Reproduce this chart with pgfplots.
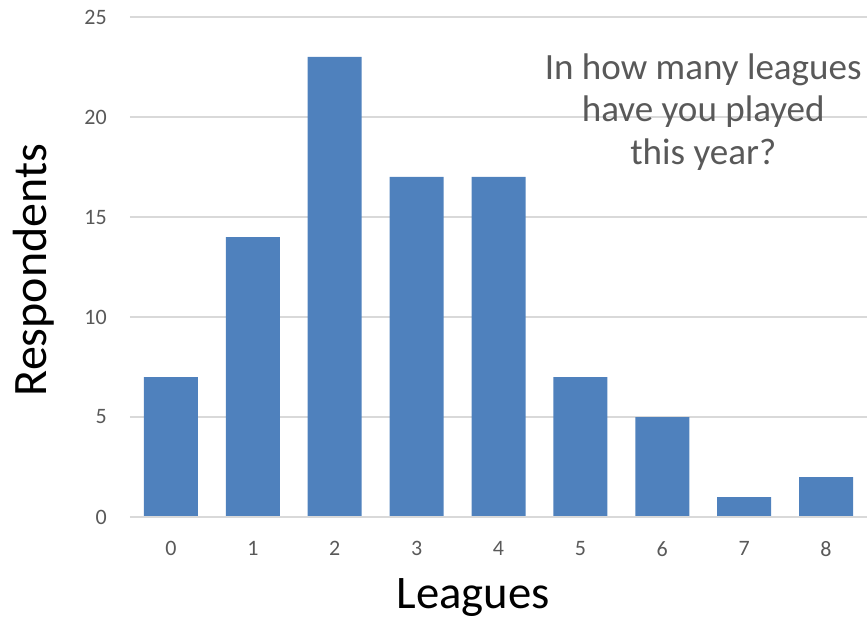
\documentclass[border=0pt]{standalone}
\usepackage{pgfplots}
\pgfplotsset{compat=1.18}
\usepackage{fontspec}
\setmainfont{Carlito}
\definecolor{barblue}{HTML}{4F81BD}
\definecolor{ticktext}{HTML}{595959}
\definecolor{gridgray}{HTML}{D9D9D9}

\begin{document}
\begin{tikzpicture}
  \useasboundingbox (-97.5pt,-75.75pt) rectangle (552.75pt,387.75pt);
  \begin{axis}[
    scale only axis,
    width=552.75pt, height=375pt,
    xmin=-0.5, xmax=8.5,
    ymin=0, ymax=25,
    xtick={0,...,8},
    ytick={0,5,...,25},
    major tick length=0pt,
    axis line style={draw=none},
    ymajorgrids,
    grid style={gridgray, line width=1pt},
    tick label style={font=\fontsize{16.5}{19}\selectfont, text=ticktext,
      /pgf/number format/assume math mode=true},
    yticklabel style={inner sep=0pt, xshift=-17.25pt},
    xticklabel style={inner sep=0pt, anchor=north, yshift=-18pt},
    clip=false,
  ]
    \addplot[ybar, bar width=40.5pt, fill=barblue, draw=none]
      coordinates {(0,7)(1,14)(2,23)(3,17)(4,17)(5,7)(6,5)(7,1)(8,2)};
    \draw[gridgray, line width=1.5pt] (rel axis cs:0,0) -- (rel axis cs:1,0);
    \node[anchor=north, inner sep=0pt, align=center, text=ticktext,
      font=\fontsize{27.8}{32}\selectfont] at (axis cs:6.5,23.2)
      {In how many leagues\\have you played\\this year?};
    \node[anchor=base, inner sep=0pt, font=\fontsize{35}{40}\selectfont,
      yshift=-68.25pt] at (rel axis cs:0.4654,0) {Leagues};
    \node[rotate=90, anchor=north, inner sep=0pt, font=\fontsize{36}{40}\selectfont,
      yshift=88pt] at (rel axis cs:0,0.494) {Respondents};
  \end{axis}
\end{tikzpicture}
\end{document}
